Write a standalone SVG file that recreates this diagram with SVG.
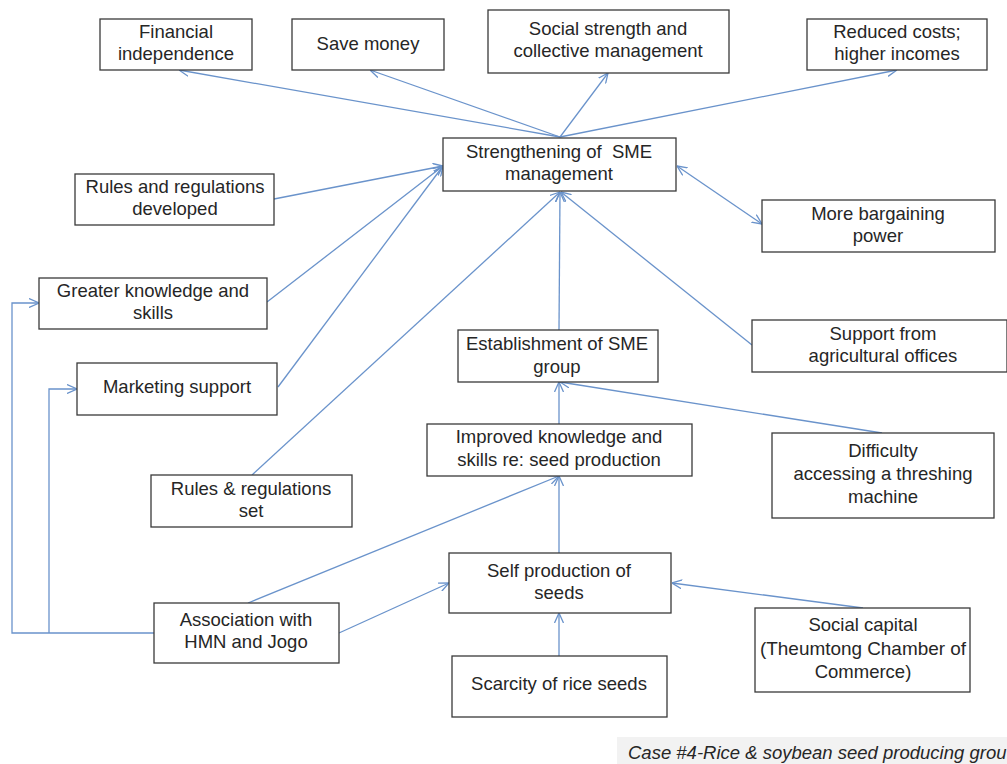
<svg xmlns="http://www.w3.org/2000/svg" width="1007" height="764" viewBox="0 0 1007 764">
<style>
.box{fill:#fff;stroke:#3a3a3a;stroke-width:1.3}
.t{font-family:"Liberation Sans",Arial,sans-serif;font-size:18.5px;fill:#262626;text-anchor:middle}
.c{fill:none;stroke:#6a93cb;stroke-width:1.3}
.cap{font-family:"Liberation Sans",Arial,sans-serif;font-size:18.5px;font-style:italic;fill:#262626}
</style>
<defs>
<marker id="ah" viewBox="0 0 10 10" refX="10" refY="5" markerWidth="10" markerHeight="10" markerUnits="userSpaceOnUse" orient="auto-start-reverse">
<path d="M0,0.5 L10,5 L0,9.5" fill="none" stroke="#6a93cb" stroke-width="1.3"/>
</marker>
</defs>
<rect width="1007" height="764" fill="#fff"/>
<g id="connectors">
<line class="c" x1="560" y1="137" x2="179" y2="70" marker-end="url(#ah)"/>
<line class="c" x1="560" y1="137" x2="370" y2="70" marker-end="url(#ah)"/>
<line class="c" x1="560" y1="137" x2="608" y2="73" marker-end="url(#ah)"/>
<line class="c" x1="560" y1="137" x2="897" y2="70" marker-end="url(#ah)"/>
<line class="c" x1="274" y1="199" x2="443" y2="166" marker-end="url(#ah)"/>
<line class="c" x1="267" y1="302" x2="443" y2="166" marker-end="url(#ah)"/>
<line class="c" x1="278" y1="387" x2="443" y2="166" marker-end="url(#ah)"/>
<line class="c" x1="252" y1="475" x2="560" y2="192" marker-end="url(#ah)"/>
<line class="c" x1="559" y1="330" x2="560" y2="192" marker-end="url(#ah)"/>
<line class="c" x1="752" y1="345" x2="561" y2="192" marker-end="url(#ah)"/>
<line class="c" x1="677" y1="166" x2="762" y2="224" marker-start="url(#ah)" marker-end="url(#ah)"/>
<line class="c" x1="559" y1="424" x2="559" y2="382" marker-end="url(#ah)"/>
<line class="c" x1="882" y1="433" x2="560" y2="382" marker-end="url(#ah)"/>
<line class="c" x1="559" y1="553" x2="559" y2="476" marker-end="url(#ah)"/>
<line class="c" x1="248" y1="603" x2="559" y2="476" marker-end="url(#ah)"/>
<line class="c" x1="339" y1="633" x2="449" y2="583" marker-end="url(#ah)"/>
<line class="c" x1="559" y1="656" x2="559" y2="613" marker-end="url(#ah)"/>
<line class="c" x1="863" y1="608" x2="672" y2="583" marker-end="url(#ah)"/>
<polyline class="c" points="154,633 12,633 12,303 39,303" marker-end="url(#ah)"/>
<polyline class="c" points="49,633 49,389 77,389" marker-end="url(#ah)"/>
</g>
<g id="n-financial"><rect class="box" x="100" y="19" width="152" height="51"/><text class="t" x="176" y="38">Financial</text><text class="t" x="176" y="60">independence</text></g>
<g id="n-save"><rect class="box" x="292" y="19" width="152" height="51"/><text class="t" x="368" y="50">Save money</text></g>
<g id="n-social-strength"><rect class="box" x="488" y="10" width="241" height="63"/><text class="t" x="608" y="35">Social strength and</text><text class="t" x="608" y="57">collective management</text></g>
<g id="n-reduced"><rect class="box" x="807" y="19" width="180" height="51"/><text class="t" x="897" y="38">Reduced costs;</text><text class="t" x="897" y="60">higher incomes</text></g>
<g id="n-strengthening"><rect class="box" x="443" y="138" width="233" height="53"/><text class="t" x="559" y="158" style="white-space:pre">Strengthening of  SME</text><text class="t" x="559" y="180">management</text></g>
<g id="n-rules-dev"><rect class="box" x="75" y="174" width="199" height="51"/><text class="t" x="175" y="193">Rules and regulations</text><text class="t" x="175" y="215">developed</text></g>
<g id="n-bargaining"><rect class="box" x="762" y="200" width="233" height="52"/><text class="t" x="878" y="220">More bargaining</text><text class="t" x="878" y="242">power</text></g>
<g id="n-greater"><rect class="box" x="39" y="278" width="228" height="51"/><text class="t" x="153" y="297">Greater knowledge and</text><text class="t" x="153" y="319">skills</text></g>
<g id="n-marketing"><rect class="box" x="77" y="363" width="200" height="52"/><text class="t" x="177" y="393">Marketing support</text></g>
<g id="n-rules-set"><rect class="box" x="151" y="475" width="201" height="52"/><text class="t" x="251" y="495">Rules &amp; regulations</text><text class="t" x="251" y="517">set</text></g>
<g id="n-establishment"><rect class="box" x="458" y="330" width="200" height="52"/><text class="t" x="557" y="350">Establishment of SME</text><text class="t" x="557" y="373">group</text></g>
<g id="n-improved"><rect class="box" x="427" y="424" width="265" height="52"/><text class="t" x="559" y="443">Improved knowledge and</text><text class="t" x="559" y="466">skills re: seed production</text></g>
<g id="n-support"><rect class="box" x="752" y="320" width="255" height="52"/><text class="t" x="883" y="340">Support from</text><text class="t" x="883" y="362">agricultural offices</text></g>
<g id="n-difficulty"><rect class="box" x="772" y="433" width="222" height="85"/><text class="t" x="883" y="457">Difficulty</text><text class="t" x="883" y="480">accessing a threshing</text><text class="t" x="883" y="503">machine</text></g>
<g id="n-self"><rect class="box" x="449" y="553" width="222" height="60"/><text class="t" x="559" y="577">Self production of</text><text class="t" x="559" y="599">seeds</text></g>
<g id="n-association"><rect class="box" x="154" y="603" width="185" height="60"/><text class="t" x="246" y="626">Association with</text><text class="t" x="246" y="648">HMN and Jogo</text></g>
<g id="n-scarcity"><rect class="box" x="452" y="656" width="215" height="61"/><text class="t" x="559" y="690">Scarcity of rice seeds</text></g>
<g id="n-social-capital"><rect class="box" x="755" y="608" width="215" height="84"/><text class="t" x="863" y="631">Social capital</text><text class="t" x="863" y="655" textLength="206" lengthAdjust="spacingAndGlyphs">(Theumtong Chamber of</text><text class="t" x="863" y="678">Commerce)</text></g>
<g id="caption"><rect x="617" y="737" width="390" height="27" fill="#f2f2f2"/><text class="cap" x="628" y="759">Case #4-Rice &amp; soybean seed producing grou</text></g>
</svg>
